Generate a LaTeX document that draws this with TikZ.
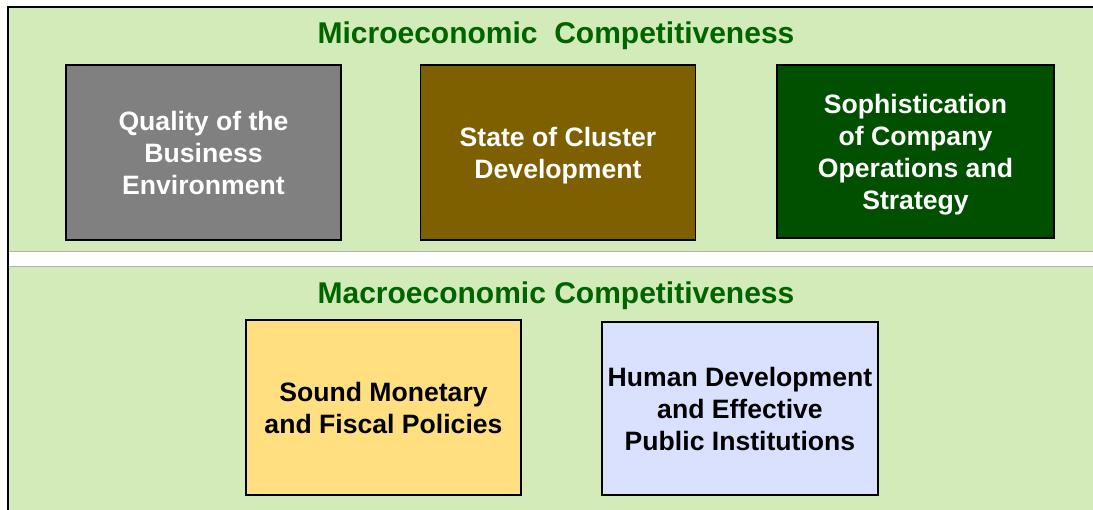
\documentclass[tikz,border=0pt]{standalone}
\usepackage{fontspec}
\setmainfont{Liberation Sans}
\definecolor{panelgreen}{HTML}{D2EBB8}
\definecolor{headgreen}{HTML}{006400}
\definecolor{envgray}{HTML}{808080}
\definecolor{clusterbrown}{HTML}{7F6000}
\definecolor{companygreen}{HTML}{005000}
\definecolor{policyyellow}{HTML}{FFDF80}
\definecolor{humanblue}{HTML}{D9E1FF}
\begin{document}
\begin{tikzpicture}[
      x=1pt, y=-1pt,
      every node/.style={align=center, font=\bfseries\fontsize{26.6}{32}\selectfont},
      factor/.style={draw=black, line width=1.2pt, minimum width=275pt,
        minimum height=175pt, inner sep=0pt, text depth=0pt},
      heading/.style={text=headgreen, font=\bfseries\fontsize{30}{36}\selectfont},
      divider/.style={draw=black!30, line width=1pt},
    ]
    \useasboundingbox (0,0) rectangle (1093,510);
    % panels
    \fill[panelgreen] (8,7) rectangle (1093,252);
    \fill[panelgreen] (8,267) rectangle (1093,510);
    \draw[divider] (8,252) -- (1093,252);
    \draw[divider] (8,267) -- (1093,267);
    \draw[line width=1.5pt] (1093,7) -- (8,7) -- (8,510);
    % headings
    \node[heading] (micro) at (556,36) {Microeconomic\ \ Competitiveness};
    \node[heading] (macro) at (556,296) {Macroeconomic Competitiveness};
    % microeconomic factors
    \node[factor, fill=envgray, text=white] (environment) at (203.5,152.5)
      {Quality of the\\Business\\Environment};
    \node[factor, fill=clusterbrown, text=white] (cluster) at (558,152.5)
      {State of Cluster\\Development};
    \node[factor, fill=companygreen, text=white, minimum width=277pt,
      minimum height=173pt] (company) at (915.5,151.5)
      {Sophistication\\of Company\\Operations and\\Strategy};
    % macroeconomic factors
    \node[factor, fill=policyyellow] (policies) at (383.5,407.5)
      {Sound Monetary\\and Fiscal Policies};
    \node[factor, fill=humanblue, minimum width=276pt, minimum height=173pt]
      (institutions) at (740,408.5)
      {Human Development\\and Effective\\Public Institutions};
\end{tikzpicture}
\end{document}
